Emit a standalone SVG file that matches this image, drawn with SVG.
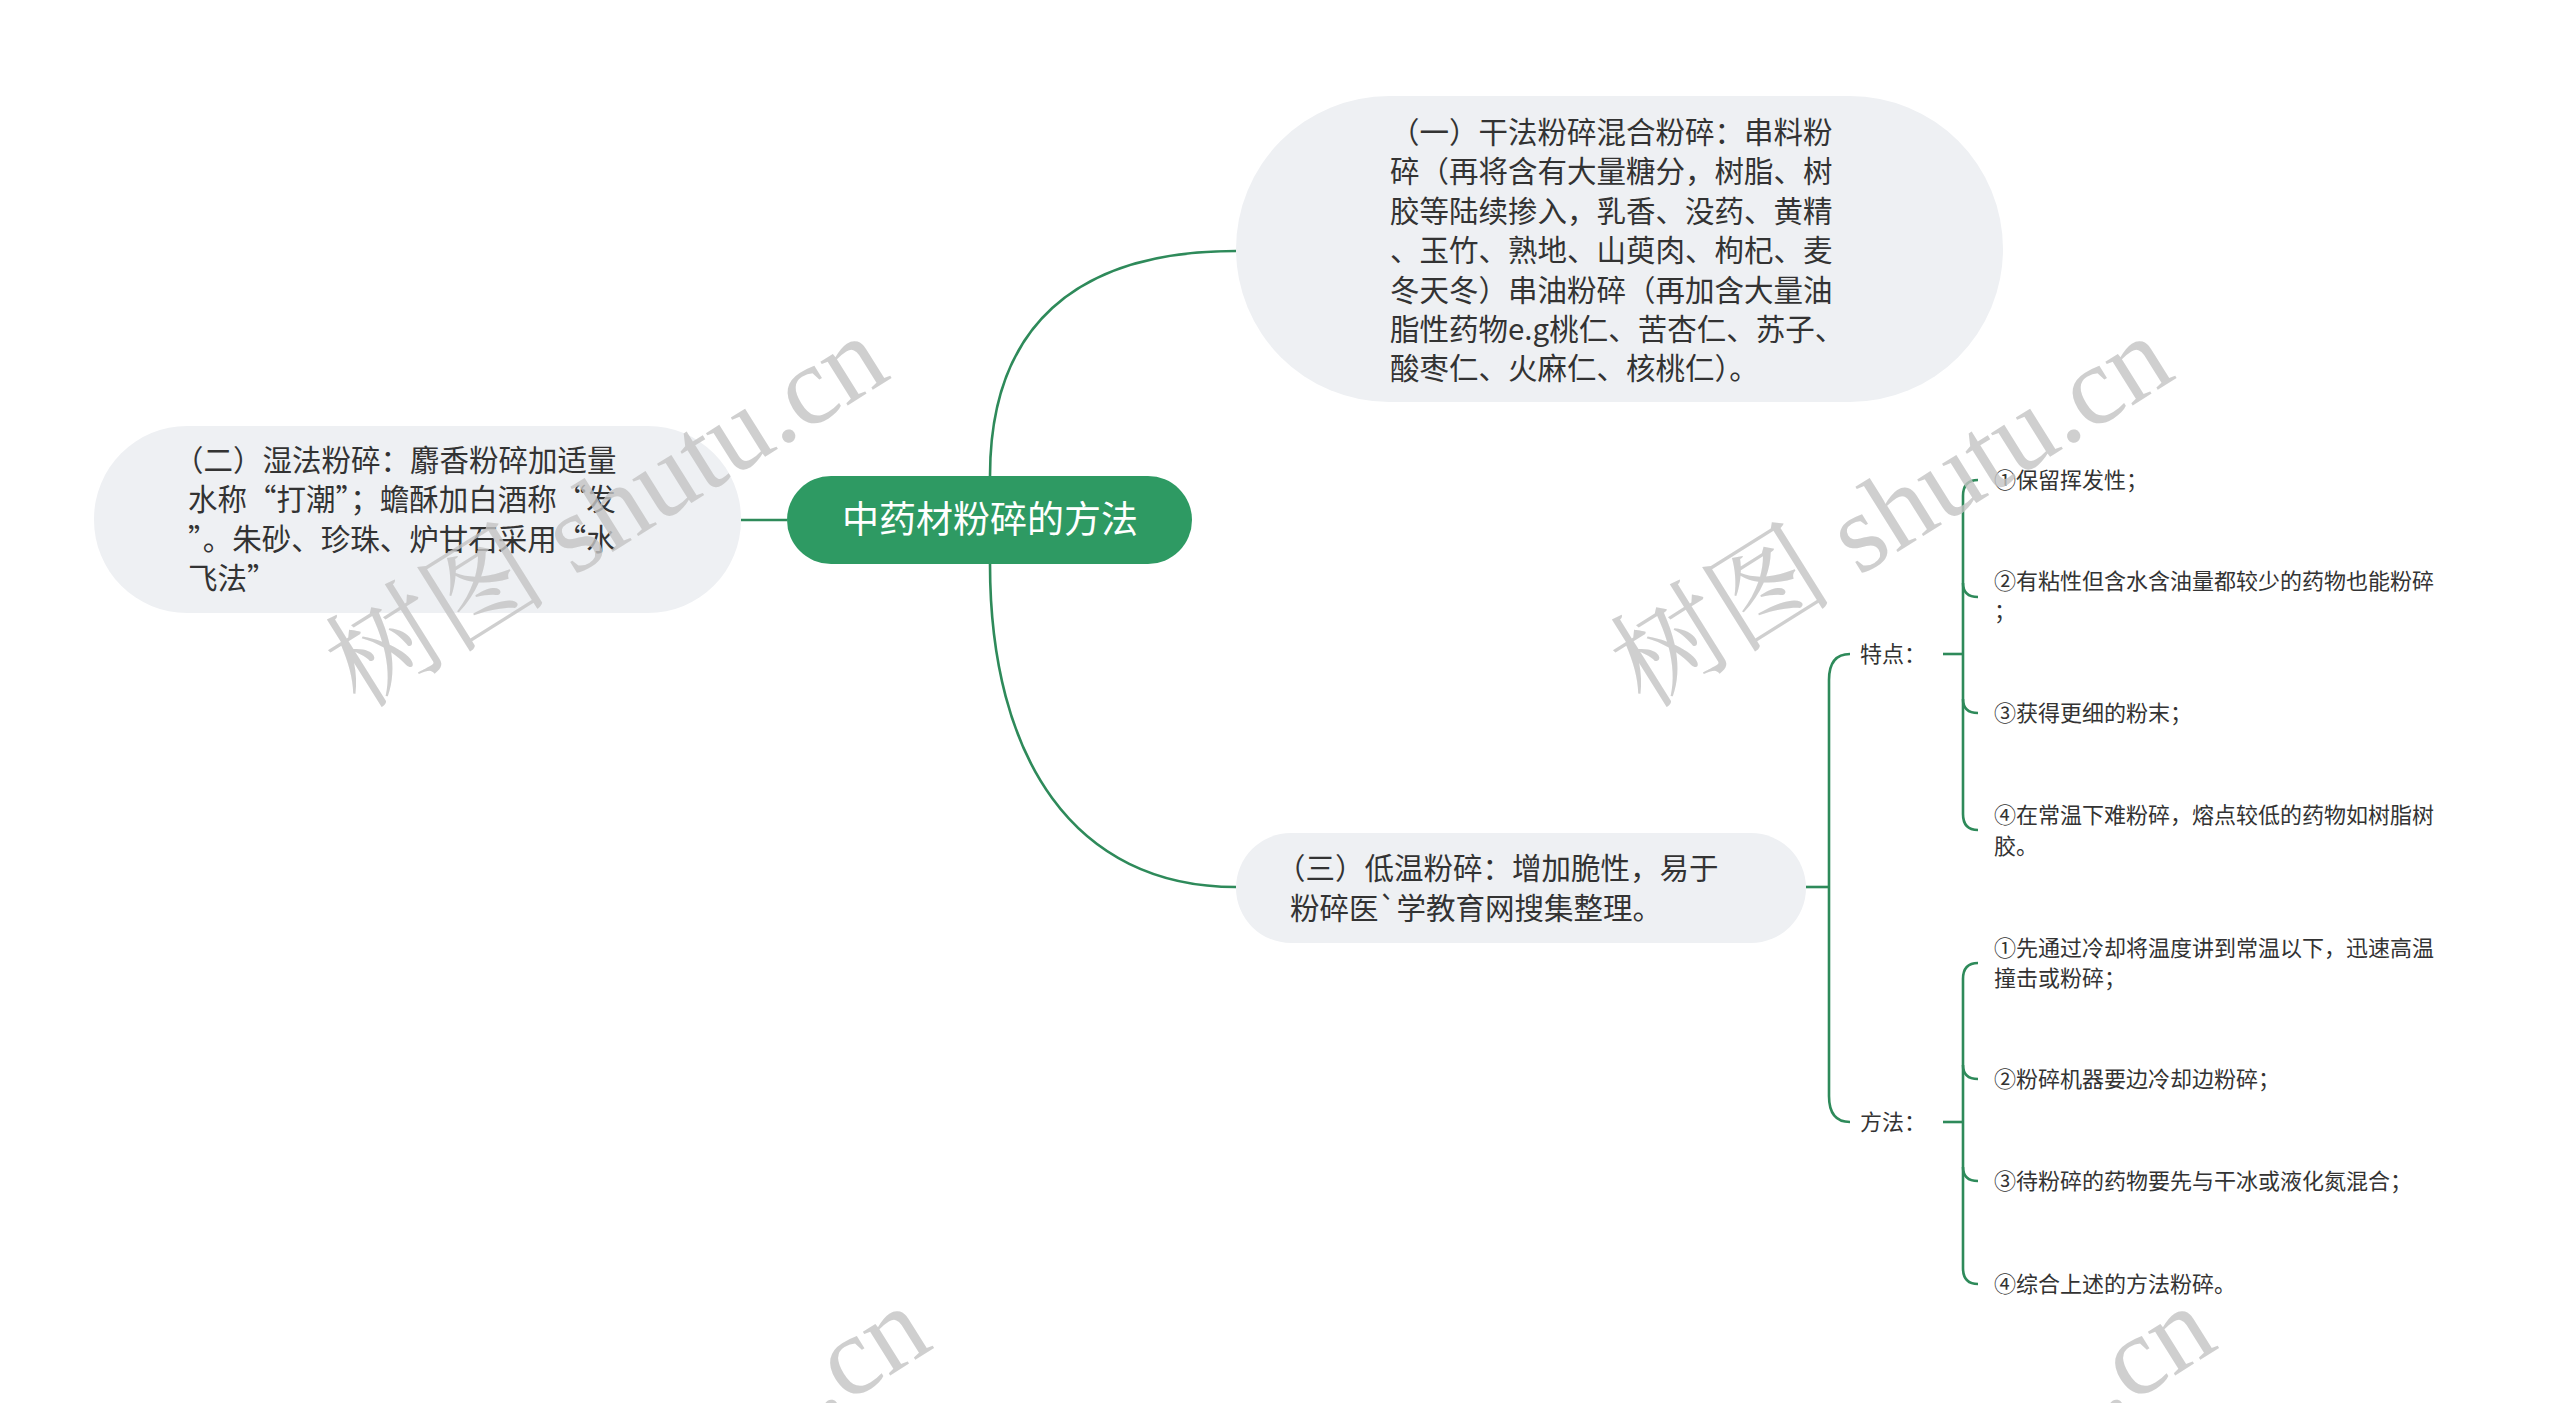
<svg xmlns="http://www.w3.org/2000/svg" width="2560" height="1403" viewBox="0 0 2560 1403">
<style>
.t{font-family:"Noto Sans CJK SC","Liberation Sans",sans-serif;fill:#333}
.b{font-size:29.5px}
.s{font-size:22px}
.wm{font-family:"Liberation Serif","Noto Serif CJK SC","Noto Sans CJK SC",serif;font-size:112px;fill:#c4c4c4;opacity:0.8}
.c{fill:none;stroke:#2e8a5a;stroke-width:2.6}
</style>
<rect width="2560" height="1403" fill="#fff"/>
<g transform="translate(-6,-2)">
<g id="connectors">
<path class="c" d="M996,478 C996,330 1080,253 1242,253"/>
<path class="c" d="M996,566 C996,760 1080,889 1242,889"/>
<path class="c" d="M793,522 L747,522"/>
<path class="c" d="M1812,889 L1835,889"/>
<path class="c" d="M1856,656 Q1835,656 1835,682 L1835,1098 Q1835,1124 1856,1124"/>
<path class="c" d="M1949,656 L1969,656"/>
<path class="c" d="M1984,482 Q1969,482 1969,498 L1969,816 Q1969,832 1984,832"/>
<path class="c" d="M1969,585 Q1969,599 1984,599"/>
<path class="c" d="M1969,701 Q1969,715 1984,715"/>
<path class="c" d="M1949,1124 L1969,1124"/>
<path class="c" d="M1984,965 Q1969,965 1969,981 L1969,1270 Q1969,1286 1984,1286"/>
<path class="c" d="M1969,1067 Q1969,1081 1984,1081"/>
<path class="c" d="M1969,1169 Q1969,1183 1984,1183"/>
</g>
<g id="root">
<rect x="793" y="478" width="405" height="88" rx="44" fill="#2e9a63"/>
<text x="996" y="535" text-anchor="middle" font-family="Noto Sans CJK SC,Liberation Sans,sans-serif" font-size="37" fill="#fff">中药材粉碎的方法</text>
</g>
<g id="n1">
<rect x="1242" y="98" width="767" height="306" rx="153" fill="#eef0f3"/>
<text class="t b" x="1396"><tspan x="1396" y="145">（一）干法粉碎混合粉碎：串料粉</tspan><tspan x="1396" y="184">碎（再将含有大量糖分，树脂、树</tspan><tspan x="1396" y="224">胶等陆续掺入，乳香、没药、黄精</tspan><tspan x="1396" y="263">、玉竹、熟地、山萸肉、枸杞、麦</tspan><tspan x="1396" y="303">冬天冬）串油粉碎（再加含大量油</tspan><tspan x="1396" y="342">脂性药物e.g桃仁、苦杏仁、苏子、</tspan><tspan x="1396" y="381">酸枣仁、火麻仁、核桃仁）。</tspan></text>
</g>
<g id="n2">
<rect x="100" y="428" width="647" height="187" rx="93" fill="#eef0f3"/>
<text class="t b"><tspan x="180" y="473">（二）湿法粉碎：麝香粉碎加适量</tspan><tspan x="194" y="512">水称“打潮”；蟾酥加白酒称“发</tspan><tspan x="194" y="552">”。朱砂、珍珠、炉甘石采用“水</tspan><tspan x="194" y="591">飞法”</tspan></text>
</g>
<g id="n3">
<rect x="1242" y="835" width="570" height="110" rx="55" fill="#eef0f3"/>
<text class="t b"><tspan x="1282" y="881">（三）低温粉碎：增加脆性，易于</tspan><tspan x="1296" y="921">粉碎医`学教育网搜集整理。</tspan></text>
</g>
<g id="l1"><text class="t s" x="1866" y="664">特点：</text></g>
<g id="l2"><text class="t s" x="1866" y="1132">方法：</text></g>
<g id="a1"><text class="t s" x="2000" y="490">①保留挥发性；</text></g>
<g id="a2"><text class="t s"><tspan x="2000" y="591">②有粘性但含水含油量都较少的药物也能粉碎</tspan><tspan x="2000" y="621">；</tspan></text></g>
<g id="a3"><text class="t s" x="2000" y="723">③获得更细的粉末；</text></g>
<g id="a4"><text class="t s"><tspan x="2000" y="825">④在常温下难粉碎，熔点较低的药物如树脂树</tspan><tspan x="2000" y="856">胶。</tspan></text></g>
<g id="b1"><text class="t s"><tspan x="2000" y="958">①先通过冷却将温度讲到常温以下，迅速高温</tspan><tspan x="2000" y="988">撞击或粉碎；</tspan></text></g>
<g id="b2"><text class="t s" x="2000" y="1089">②粉碎机器要边冷却边粉碎；</text></g>
<g id="b3"><text class="t s" x="2000" y="1191">③待粉碎的药物要先与干冰或液化氮混合；</text></g>
<g id="b4"><text class="t s" x="2000" y="1294">④综合上述的方法粉碎。</text></g>
</g>
<g id="watermark">
<text class="wm" transform="translate(360,710) rotate(-32)">树图 shutu.cn</text>
<text class="wm" transform="translate(1645,710) rotate(-32)">树图 shutu.cn</text>
<text class="wm" transform="translate(822,1418) rotate(-32)">.cn</text>
<text class="wm" transform="translate(2107,1418) rotate(-32)">.cn</text>
</g>
</svg>
